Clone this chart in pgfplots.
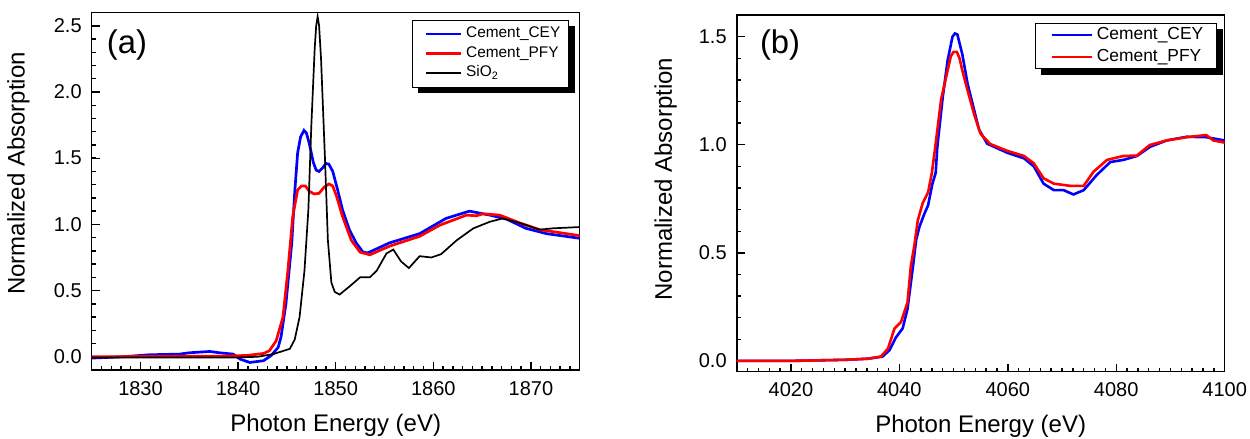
\documentclass[border=0pt]{standalone}
\usepackage{fontspec}
\setmainfont{Liberation Sans}
\usepackage{pgfplots}
\pgfplotsset{compat=1.18}
\usetikzlibrary{backgrounds}

\definecolor{cey}{RGB}{0,0,255}
\definecolor{pfy}{RGB}{255,0,0}

\pgfplotsset{
  xanes/.style={
    scale only axis,
    axis line style={line width=0.8pt},
    tick align=inside,
    xtick pos=bottom, ytick pos=left,
    major tick length=4pt, minor tick length=2pt,
    every tick/.style={black, line width=0.7pt},
    tick label style={font=\fontsize{10}{12}\selectfont},
    xticklabel style={yshift=-2pt, /pgf/number format/set thousands separator={}},
    yticklabel style={xshift=-1.5pt, /pgf/number format/fixed,
      /pgf/number format/precision=1, /pgf/number format/fixed zerofill},
    /pgf/number format/assume math mode=true,
    label style={font=\fontsize{12}{14}\selectfont},
    xlabel={Photon Energy (eV)},
    ylabel={Normalized Absorption},
    xlabel style={at={([yshift=-27.5pt]axis description cs:0.5,0)}, anchor=center},
    legend cell align=left,
  },
}

\begin{document}
\begin{tikzpicture}

% (a) Si K-edge
\begin{axis}[xanes,
  at={(0pt,0pt)}, anchor=south west,
  width=244pt, height=178.7pt,
  xmin=1825, xmax=1875, ymin=-0.1, ymax=2.6,
  xtick={1830,1840,...,1870}, minor xtick={1825,1826,...,1875},
  ytick={0,0.5,1,1.5,2,2.5}, minor ytick={-0.1,0,0.1,...,2.6},
  ylabel style={at={([xshift=-36.6pt]axis description cs:0,0.55)}, anchor=center},
  legend image code/.code={\path (0pt,0pt); \draw[#1] (4pt,0pt) -- (21.5pt,0pt);},
  legend style={name=legA, at={(rel axis cs:1,1)}, anchor=north east, xshift=-5.5pt, yshift=-3.6pt,
    font=\fontsize{7.7}{9}\selectfont, draw=black, fill=white,
    inner xsep=2pt, inner ysep=2.1pt,
    nodes={inner xsep=2pt, inner ysep=1pt, text height=5.8pt, text depth=1.95pt}},
]
\addplot[cey, line width=1.35pt] coordinates {
(1825,-0.01)(1828.2,0.0)(1830.9,0.015)(1834,0.02)(1835,0.03)(1837.1,0.04)
(1838.1,0.03)(1839.5,0.02)(1840.2,-0.018)(1841.2,-0.043)(1842.6,-0.03)
(1843.4,0.01)(1844.1,0.07)(1844.4,0.15)(1844.9,0.40)(1845.5,0.86)(1845.8,1.24)
(1846.1,1.54)(1846.4,1.66)(1846.75,1.71)(1847.0,1.69)(1847.3,1.61)(1847.7,1.47)
(1848.0,1.41)(1848.3,1.40)(1848.7,1.43)(1849.0,1.46)(1849.3,1.455)(1849.7,1.40)
(1850.2,1.26)(1850.7,1.11)(1851.4,0.96)(1852.1,0.86)(1852.8,0.79)(1853.3,0.785)
(1855.5,0.86)(1858.6,0.93)(1861.3,1.045)(1863.7,1.10)(1865.8,1.07)(1867.5,1.04)
(1869.5,0.97)(1871.6,0.93)(1875,0.895)
};
\addlegendentry{Cement\_CEY}
\addplot[pfy, line width=1.35pt] coordinates {
(1825,0.0)(1838.5,0.005)(1840.9,0.01)(1842.6,0.025)(1843.2,0.045)(1843.9,0.12)
(1844.6,0.30)(1845.1,0.65)(1845.6,1.06)(1846.1,1.26)(1846.5,1.29)(1846.9,1.29)
(1847.3,1.25)(1847.8,1.23)(1848.3,1.235)(1848.8,1.28)(1849.3,1.305)(1849.7,1.29)
(1850.1,1.21)(1850.7,1.06)(1851.6,0.88)(1852.5,0.79)(1853.5,0.77)(1855.5,0.835)
(1858.6,0.91)(1860.7,0.995)(1863.4,1.07)(1864.4,1.065)(1865.1,1.08)(1866.8,1.07)
(1868.9,1.01)(1870.9,0.96)(1875,0.915)
};
\addlegendentry{Cement\_PFY}
\addplot[black, line width=0.85pt] coordinates {
(1825,-0.005)(1835,-0.005)(1840,-0.005)(1842,0.0)(1843.6,0.02)(1845.3,0.06)
(1845.8,0.13)(1846.3,0.30)(1846.8,0.65)(1847.2,1.11)(1847.5,1.74)(1847.85,2.33)
(1848.0,2.50)(1848.15,2.57)(1848.3,2.50)(1848.5,2.25)(1848.9,1.5)(1849.2,0.88)
(1849.56,0.56)(1849.9,0.49)(1850.4,0.47)(1851.4,0.53)(1852.5,0.60)(1853.5,0.60)
(1854.2,0.65)(1855.2,0.78)(1855.9,0.81)(1856.7,0.72)(1857.5,0.67)(1858.6,0.76)
(1859.8,0.75)(1860.8,0.775)(1862.4,0.88)(1864.1,0.97)(1865.8,1.02)(1867.1,1.045)
(1868.9,1.01)(1870.9,0.96)(1872.2,0.97)(1875,0.98)
};
\addlegendentry{SiO\textsubscript{2}}
\node[font=\fontsize{16.4}{18}\selectfont] at ([xshift=17.6pt,yshift=-16.2pt]rel axis cs:0,1) {(a)};
\end{axis}

% (b) Ca K-edge
\begin{axis}[xanes,
  at={(322.5pt,-0.85pt)}, anchor=south west,
  width=244pt, height=178.3pt,
  xmin=4010, xmax=4100, ymin=-0.05, ymax=1.6,
  xtick={4020,4040,...,4100}, minor xtick={4010,4012,...,4100},
  ytick={0,0.5,1,1.5}, minor ytick={0,0.1,...,1.6},
  ylabel style={at={([xshift=-35.5pt]axis description cs:0,0.54)}, anchor=center},
  legend image code/.code={\path (0pt,0pt); \draw[#1] (3pt,0pt) -- (23pt,0pt);},
  legend style={name=legB, at={(rel axis cs:1,1)}, anchor=north east, xshift=-4pt, yshift=-4pt,
    font=\fontsize{8.7}{10}\selectfont, draw=black, fill=white,
    inner xsep=4.5pt, inner ysep=0.25pt,
    nodes={inner xsep=2pt, inner ysep=1.35pt, text height=6.3pt, text depth=2pt}},
]
\addplot[cey, line width=1.3pt] coordinates {
(4010,0.0)(4020,0.0)(4030,0.005)(4034.2,0.01)(4036.9,0.02)(4038.2,0.05)
(4039.4,0.11)(4040.6,0.15)(4041.5,0.24)(4042.5,0.435)(4043.1,0.56)(4043.7,0.62)
(4044.6,0.68)(4045.3,0.72)(4046.1,0.82)(4046.7,0.87)(4047.0,0.99)(4048.0,1.22)
(4048.9,1.39)(4049.8,1.50)(4050.25,1.515)(4050.7,1.51)(4051.6,1.42)(4052.6,1.28)
(4053.8,1.16)(4054.7,1.07)(4056.2,1.005)(4059.9,0.963)(4063.0,0.937)(4064.8,0.90)
(4066.6,0.82)(4068.5,0.79)(4070.3,0.79)(4072.1,0.77)(4074.0,0.79)(4076.4,0.86)
(4078.9,0.92)(4081.3,0.93)(4083.8,0.948)(4086.2,0.99)(4089.3,1.02)(4093.0,1.037)
(4096.6,1.035)(4100,1.02)
};
\addlegendentry{Cement\_CEY}
\addplot[pfy, line width=1.3pt] coordinates {
(4010,0.0)(4020,0.0)(4030,0.005)(4034.2,0.01)(4036.6,0.02)(4037.9,0.057)
(4039.1,0.15)(4040.3,0.18)(4041.5,0.27)(4042.1,0.435)(4042.8,0.54)(4043.4,0.65)
(4044.3,0.73)(4045.3,0.78)(4046.0,0.87)(4046.7,1.006)(4047.7,1.21)(4048.6,1.31)
(4049.5,1.41)(4050.0,1.43)(4050.6,1.43)(4051.1,1.40)(4051.6,1.345)(4052.6,1.25)
(4053.8,1.14)(4055.0,1.05)(4056.8,1.003)(4059.9,0.972)(4063.0,0.948)(4064.8,0.914)
(4066.6,0.845)(4068.5,0.82)(4071.5,0.81)(4074.0,0.81)(4075.8,0.875)(4078.3,0.93)
(4081.3,0.948)(4083.8,0.95)(4086.2,0.999)(4089.3,1.02)(4093,1.035)(4096.6,1.045)
(4097.9,1.02)(4100,1.01)
};
\addlegendentry{Cement\_PFY}
\node[font=\fontsize{16.4}{18}\selectfont] at ([xshift=21.7pt,yshift=-15pt]rel axis cs:0,1) {(b)};
\end{axis}

% legend shadows
\begin{scope}[on background layer]
\fill[black] ([shift={(3pt,-3pt)}]legA.south west) rectangle ([shift={(3pt,-3pt)}]legA.north east);
\fill[black] ([shift={(3pt,-3pt)}]legB.south west) rectangle ([shift={(3pt,-3pt)}]legB.north east);
\end{scope}

\pgfresetboundingbox
\path[use as bounding box] (-45.85pt,-34.5pt) rectangle (579.15pt,185pt);
\end{tikzpicture}
\end{document}
